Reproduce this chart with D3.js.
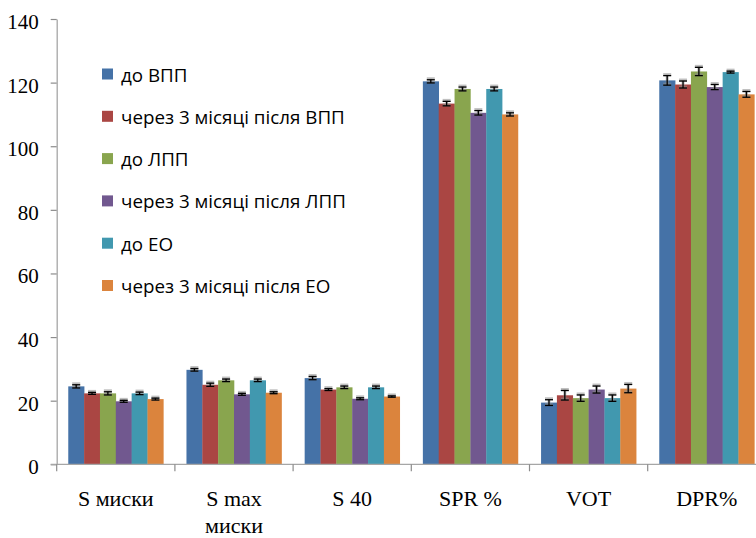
<!DOCTYPE html>
<html><head><meta charset="utf-8">
<script src="https://cdn.jsdelivr.net/npm/d3@7"></script>
<style>
html,body{margin:0;padding:0;background:#fff;}
svg{display:block;}
</style></head>
<body>
<svg id="c" width="756" height="538"></svg>
<script>
const categories = ["S миски", "S max миски", "S 40", "SPR %", "VOT", "DPR%"];
const categoryLines = [["S миски"], ["S max", "миски"], ["S 40"], ["SPR %"], ["VOT"], ["DPR%"]];
const seriesNames = ["до ВПП", "через 3 місяці після ВПП", "до ЛПП", "через 3 місяці після ЛПП", "до ЕО", "через 3 місяці після ЕО"];
const seriesColors = ["#4572A7", "#AA4643", "#89A54E", "#71588F", "#4198AF", "#DB843D"];
const values = [
  [24.5, 29.7, 27.1, 120.4, 19.4, 120.7],
  [22.3, 25.0, 23.5, 113.4, 21.7, 119.4],
  [22.3, 26.4, 24.2, 118.0, 20.8, 123.5],
  [19.8, 22.0, 20.6, 110.5, 23.5, 118.6],
  [22.3, 26.4, 24.2, 118.0, 20.8, 123.3],
  [20.5, 22.5, 21.3, 110.0, 23.8, 116.3]
];
const errors = [
  [0.5, 0.4, 0.5, 0.5, 0.9, 1.5],
  [0.3, 0.5, 0.3, 0.7, 1.5, 1.1],
  [0.5, 0.4, 0.4, 0.6, 1.0, 1.3],
  [0.3, 0.3, 0.3, 0.7, 1.1, 0.8],
  [0.4, 0.4, 0.4, 0.6, 1.0, 0.3],
  [0.3, 0.3, 0.2, 0.5, 1.3, 0.9]
];
const yTicks = [0, 20, 40, 60, 80, 100, 120, 140];

const serif = "'Liberation Serif', 'Times New Roman', 'DejaVu Serif', serif";
const svg = d3.select("#c");
const x0 = 56.7, bandW = 118.2;
const x = d3.scaleBand().domain(categories).range([x0, x0 + bandW * categories.length]).paddingInner(0).paddingOuter(0);
const xs = d3.scaleBand().domain(d3.range(seriesNames.length)).range([0, x.bandwidth()]).paddingOuter(0.73).paddingInner(0);
const y = d3.scaleLinear().domain([0, 140]).range([464.3, 19]);

// bars
seriesNames.forEach((s, si) => {
  const g = svg.append("g");
  g.selectAll("rect").data(categories).join("rect")
    .attr("x", c => x(c) + xs(si))
    .attr("y", (c, ci) => y(values[si][ci]))
    .attr("width", xs.bandwidth() + 0.3)
    .attr("height", (c, ci) => y(0) - y(values[si][ci]))
    .attr("fill", seriesColors[si]);
});

// error bars
seriesNames.forEach((s, si) => {
  categories.forEach((c, ci) => {
    const cx = x(c) + xs(si) + xs.bandwidth() / 2;
    const v = values[si][ci], e = errors[si][ci];
    const y1 = y(v + e), y2 = y(v - e);
    const g = svg.append("g");
    const sh = g.append("g").attr("stroke", "#8c8c8c").attr("stroke-opacity", 0.55).attr("stroke-width", 3).attr("transform", "translate(0,-1)");
    sh.append("line").attr("x1", cx).attr("x2", cx).attr("y1", y1).attr("y2", y2);
    sh.append("line").attr("x1", cx - 4).attr("x2", cx + 4).attr("y1", y1).attr("y2", y1);
    sh.append("line").attr("x1", cx - 4).attr("x2", cx + 4).attr("y1", y2).attr("y2", y2);
    const ln = g.append("g").attr("stroke", "#000").attr("stroke-width", 1.3);
    ln.append("line").attr("x1", cx).attr("x2", cx).attr("y1", y1).attr("y2", y2);
    ln.append("line").attr("x1", cx - 4).attr("x2", cx + 4).attr("y1", y1).attr("y2", y1);
    ln.append("line").attr("x1", cx - 4).attr("x2", cx + 4).attr("y1", y2).attr("y2", y2);
  });
});

// y axis
const yAxis = d3.axisLeft(y).tickValues(yTicks).tickSize(6).tickPadding(0).tickSizeOuter(0);
const ya = svg.append("g").attr("transform", `translate(${x0},0)`).call(yAxis)
  .attr("font-family", serif).attr("font-size", 21);
ya.select(".domain").attr("stroke", "#a6a6a6").attr("stroke-width", 1.3);
ya.selectAll(".tick line").attr("stroke", "#8c8c8c").attr("stroke-width", 1.2);
ya.selectAll(".tick text").attr("x", -18).attr("dy", "0.45em")
  .style("font-family", serif).style("font-size", "21px").attr("fill", "#000");

// x axis
const xa = svg.append("g").attr("transform", `translate(0,${y(0)})`);
xa.append("line").attr("x1", x0 - 6).attr("x2", 756).attr("y1", 0).attr("y2", 0).attr("stroke", "#a6a6a6").attr("stroke-width", 1.3);
const bounds = categories.map(c => x(c)).concat([x0 + bandW * categories.length]);
xa.selectAll("line.tk").data(bounds).join("line").attr("class", "tk")
  .attr("x1", d => d).attr("x2", d => d).attr("y1", 0).attr("y2", 7)
  .attr("stroke", "#8c8c8c").attr("stroke-width", 1.2);
categories.forEach((c, ci) => {
  const t = xa.append("text").attr("text-anchor", "middle")
    .style("font-family", serif).style("font-size", "22px").attr("fill", "#000");
  categoryLines[ci].forEach((line, li) => {
    t.append("tspan").attr("x", x(c) + x.bandwidth() / 2).attr("y", 42 + li * 27).text(line);
  });
});

// legend
const lg = svg.append("g");
seriesNames.forEach((s, si) => {
  const yy = 74 + si * 42.3;
  lg.append("rect").attr("x", 102).attr("y", yy - 5.5).attr("width", 11).attr("height", 11).attr("fill", seriesColors[si]);
  lg.append("text").attr("x", 121).attr("y", yy + 1).attr("dy", "0.35em")
    .style("font-family", "'Open Sans', 'Noto Sans', sans-serif").style("font-size", "18.8px").attr("fill", "#000").text(s);
});
</script>
</body></html>
